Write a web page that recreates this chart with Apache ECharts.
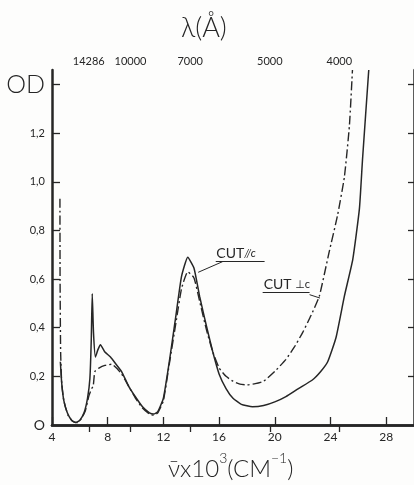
<!DOCTYPE html>
<html>
<head>
    <meta charset="utf-8" />
    <title>OD spectrum</title>
    <script src="https://cdn.jsdelivr.net/npm/echarts/dist/echarts.min.js"></script>
    <style>
        html, body { margin: 0; padding: 0; background: #fdfdfc; }
    </style>
    <script>
        // wavenumber (10^3 cm-1) / optical density pairs
        let cutParallel = [
            [4.6, 0.26], [4.7, 0.17], [4.85, 0.1], [5.1, 0.05], [5.4, 0.02], [5.7, 0.01],
            [6.0, 0.02], [6.3, 0.05], [6.55, 0.11], [6.72, 0.19], [6.82, 0.35], [6.89, 0.54],
            [6.98, 0.38], [7.12, 0.28], [7.3, 0.31], [7.48, 0.33], [7.8, 0.3], [8.2, 0.28],
            [8.6, 0.25], [9.0, 0.22], [9.5, 0.16], [10.0, 0.115], [10.5, 0.075], [11.0, 0.05],
            [11.3, 0.045], [11.6, 0.055], [12.0, 0.11], [12.45, 0.27], [12.9, 0.45], [13.3, 0.61],
            [13.75, 0.69], [14.2, 0.645], [14.6, 0.53], [15.1, 0.405], [15.55, 0.3], [16.0, 0.21],
            [16.5, 0.15], [17.0, 0.11], [17.6, 0.085], [18.4, 0.075], [19.2, 0.08], [20.0, 0.095],
            [20.8, 0.117], [21.7, 0.15], [22.7, 0.185], [23.3, 0.22], [23.8, 0.26], [24.4, 0.36],
            [25.0, 0.53], [25.6, 0.68], [26.08, 0.89], [26.3, 1.09], [26.75, 1.46]
        ];
        let cutPerp = [
            [4.57, 0.93], [4.58, 0.6], [4.62, 0.3], [4.7, 0.17], [4.85, 0.1], [5.15, 0.04],
            [5.5, 0.015], [5.8, 0.01], [6.1, 0.025], [6.4, 0.06], [6.65, 0.12], [6.85, 0.15],
            [6.96, 0.16], [7.08, 0.22], [7.4, 0.235], [7.8, 0.245], [8.3, 0.25], [8.7, 0.23],
            [9.0, 0.21], [9.5, 0.16], [10.0, 0.11], [10.5, 0.07], [11.0, 0.045], [11.3, 0.04],
            [11.6, 0.05], [12.0, 0.1], [12.45, 0.26], [12.9, 0.42], [13.3, 0.56], [13.75, 0.63],
            [14.2, 0.605], [14.6, 0.51], [15.1, 0.39], [15.55, 0.3], [16.0, 0.235], [16.5, 0.2],
            [17.0, 0.18], [17.5, 0.168], [18.0, 0.165], [18.6, 0.17], [19.2, 0.18], [20.0, 0.22],
            [20.8, 0.27], [21.4, 0.32], [22.0, 0.38], [22.6, 0.45], [23.2, 0.53], [23.9, 0.71],
            [24.5, 0.86], [25.0, 1.02], [25.36, 1.23], [25.58, 1.46]
        ];
        let wavenumberTicks = [4, 8, 12, 16, 20, 24, 28];
        let wavelengthTicks = [14286, 10000, 7000, 5000, 4000];   // Å
        let odTicks = [0, 0.2, 0.4, 0.6, 0.8, 1.0, 1.2, 1.4];

        let ink = '#262626';
        let font = 'Lato, "DejaVu Sans", sans-serif';

        function odLabel(v) {
            if (v === 0) return '{o|O}';
            if (Math.abs(v - 1.4) < 1e-6) return '{od|OD}';
            return v.toFixed(1).replace('.', ',');
        }

        function InitChart() {
            let topVals = wavelengthTicks.map(function (l) { return 1e5 / l; });
            let option = {
                backgroundColor: '#fdfdfc',
                animation: false,
                title: [{
                    text: 'λ(Å)',
                    left: 176, top: 10,
                    textStyle: { fontFamily: font, fontSize: 27, fontWeight: 300, color: ink }
                }, {
                    text: '{a|ν̄x10}{s|3}{a|(CM}{s|−1}{a|)}',
                    left: 163, top: 446,
                    textStyle: {
                        rich: {
                            a: { fontFamily: font, fontSize: 24, fontWeight: 300, color: ink, verticalAlign: 'bottom', lineHeight: 30 },
                            s: { fontFamily: font, fontSize: 14, fontWeight: 300, color: ink, verticalAlign: 'top', lineHeight: 14 }
                        }
                    }
                }],
                grid: { left: 52, top: 70, width: 363, height: 355 },
                xAxis: [{
                    type: 'value', min: 4, max: 30, position: 'bottom',
                    axisLine: { lineStyle: { color: ink, width: 2.5 } },
                    axisTick: { inside: true, length: 8, lineStyle: { color: ink, width: 1.3 }, customValues: wavenumberTicks },
                    axisLabel: { customValues: wavenumberTicks, margin: 6, fontFamily: font, fontSize: 12, color: ink },
                    splitLine: { show: false }
                }, {
                    type: 'value', min: 4.36, max: 30.36, position: 'top',
                    axisLine: { lineStyle: { color: ink, width: 2.5 } },
                    axisTick: { inside: true, length: 7, lineStyle: { color: ink, width: 1.3 }, customValues: topVals },
                    axisLabel: {
                        customValues: topVals, margin: 3, fontFamily: font, fontSize: 11, color: ink,
                        formatter: function (v) { return String(Math.round(1e5 / v)); }
                    },
                    splitLine: { show: false }
                }],
                yAxis: [{
                    type: 'value', min: 0, max: 1.46, position: 'left',
                    axisLine: { show: true, lineStyle: { color: ink, width: 2.5 } },
                    axisTick: { show: true, inside: true, length: 8, lineStyle: { color: ink, width: 1.3 }, customValues: odTicks.slice(1) },
                    axisLabel: {
                        customValues: odTicks, margin: 7, fontFamily: font, fontSize: 11, color: ink,
                        formatter: odLabel,
                        rich: {
                            od: { fontFamily: font, fontSize: 25, fontWeight: 300, color: ink },
                            o: { fontFamily: font, fontSize: 14, color: ink }
                        }
                    },
                    splitLine: { show: false }
                }, {
                    type: 'value', min: 0, max: 1.46, position: 'right',
                    axisLine: { show: true, lineStyle: { color: ink, width: 2.5 } },
                    axisTick: { show: true, inside: true, length: 6, lineStyle: { color: ink, width: 1.3 }, customValues: odTicks.slice(1) },
                    axisLabel: { show: false },
                    splitLine: { show: false }
                }],
                series: [{
                    name: 'CUT//c',
                    type: 'line',
                    data: cutParallel,
                    showSymbol: false,
                    smooth: 0.15,
                    lineStyle: { color: ink, width: 1.5 },
                    markPoint: {
                        symbol: 'circle', symbolSize: 0,
                        label: {
                            show: true, position: 'right', distance: 0,
                            formatter: '{a|CUT}{b|//c}',
                            rich: {
                                a: { fontFamily: font, fontSize: 14, color: ink },
                                b: { fontFamily: font, fontSize: 11, fontStyle: 'italic', color: ink }
                            }
                        },
                        data: [{ coord: [15.8, 0.705] }]
                    },
                    markLine: {
                        silent: true, symbol: 'none',
                        label: { show: false },
                        lineStyle: { color: ink, width: 1, type: 'solid' },
                        data: [
                            [{ coord: [15.76, 0.672] }, { coord: [19.27, 0.672] }],
                            [{ coord: [16.26, 0.672] }, { coord: [14.5, 0.628] }]
                        ]
                    }
                }, {
                    name: 'CUT ⊥c',
                    type: 'line',
                    data: cutPerp,
                    showSymbol: false,
                    smooth: 0.15,
                    lineStyle: { color: ink, width: 1.4, type: [9, 3, 2, 3] },
                    markPoint: {
                        symbol: 'circle', symbolSize: 0,
                        label: {
                            show: true, position: 'right', distance: 0,
                            formatter: '{a|CUT }{b|⊥c}',
                            rich: {
                                a: { fontFamily: font, fontSize: 14, color: ink },
                                b: { fontFamily: font, fontSize: 11, color: ink }
                            }
                        },
                        data: [{ coord: [19.2, 0.577] }]
                    },
                    markLine: {
                        silent: true, symbol: 'none',
                        label: { show: false },
                        lineStyle: { color: ink, width: 1, type: 'solid' },
                        data: [
                            [{ coord: [19.13, 0.544] }, { coord: [22.5, 0.544] }],
                            [{ coord: [22.5, 0.536] }, { coord: [23.25, 0.522] }]
                        ]
                    }
                }]
            };
            echarts.init(document.getElementById('divChart')).setOption(option);
        }
        window.onload = InitChart;
    </script>
</head>
<body>
    <div id="divChart" style="width:414px;height:485px;"></div>
</body>
</html>
